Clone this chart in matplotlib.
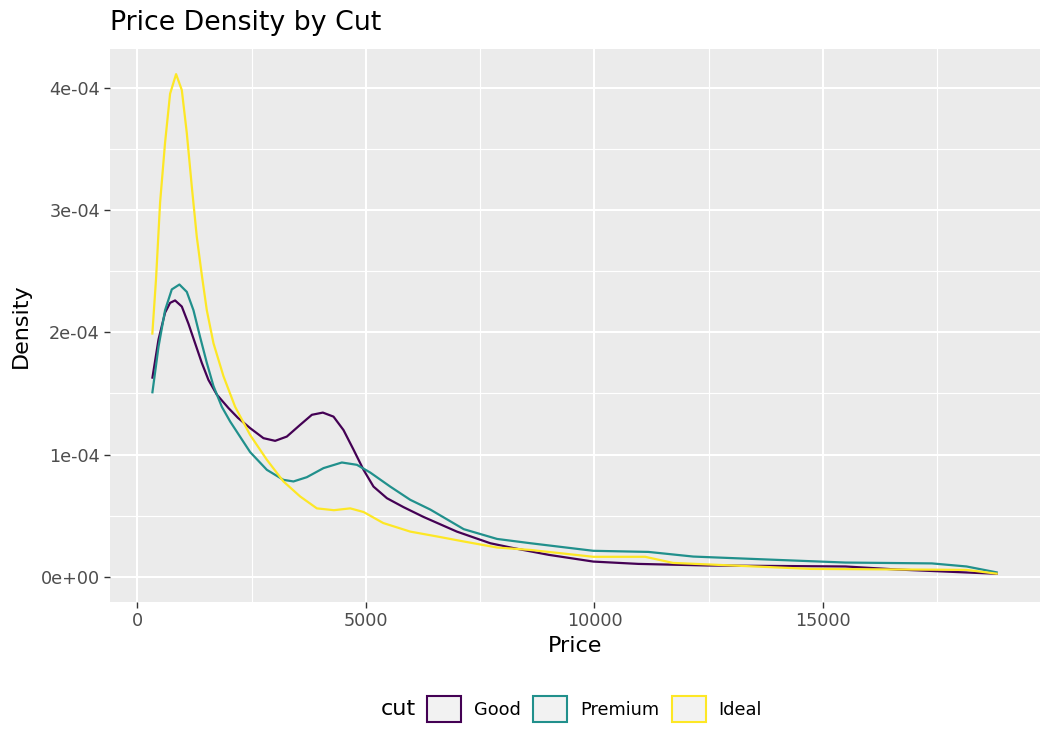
import matplotlib
matplotlib.use("Agg")
import matplotlib.pyplot as plt
from matplotlib.patches import Patch

# ---- data ----
good_price = [326, 462, 606, 716, 825, 972, 1117, 1263, 1409, 1555, 1738, 1993, 2200, 2467,
              2758, 3014, 3270, 3562, 3818, 4058, 4291, 4510, 4729, 4948, 5166, 5460, 5823,
              6260, 6990, 7720, 8230, 9000, 9975, 10960, 12470, 15490, 16630, 18823]
good_dens = [1.62, 1.94, 2.16, 2.24, 2.26, 2.21, 2.07, 1.91, 1.75, 1.61, 1.49, 1.38, 1.30, 1.216,
             1.134, 1.112, 1.147, 1.243, 1.325, 1.343, 1.31, 1.20, 1.04, 0.875, 0.738, 0.643, 0.57,
             0.49, 0.37, 0.275, 0.235, 0.18, 0.125, 0.106, 0.093, 0.085, 0.06, 0.025]

premium_price = [326, 462, 606, 753, 920, 1081, 1227, 1373, 1519, 1665, 1848, 2030, 2467, 2833,
                 3196, 3415, 3708, 4072, 4474, 4803, 5094, 5532, 5970, 6410, 7140, 7870, 8600,
                 9975, 11180, 12160, 13980, 15490, 17380, 18140, 18823]
premium_dens = [1.50, 1.88, 2.18, 2.35, 2.39, 2.33, 2.18, 1.96, 1.75, 1.56, 1.39, 1.27, 1.02, 0.875,
                0.793, 0.78, 0.815, 0.889, 0.935, 0.916, 0.853, 0.738, 0.63, 0.55, 0.39, 0.31, 0.275,
                0.213, 0.204, 0.166, 0.139, 0.117, 0.11, 0.085, 0.035]

ideal_price = [326, 409, 497, 606, 716, 847, 972, 1081, 1191, 1300, 1409, 1519, 1665, 1884, 2139,
               2467, 2833, 3196, 3562, 3927, 4300, 4657, 4950, 5380, 5970, 6560, 7130, 7870, 8600,
               9975, 11110, 11720, 14740, 18140, 18823]
ideal_dens = [1.98, 2.44, 3.06, 3.55, 3.95, 4.11, 3.98, 3.63, 3.19, 2.78, 2.47, 2.18, 1.91, 1.64, 1.39,
              1.16, 0.957, 0.78, 0.657, 0.56, 0.545, 0.56, 0.53, 0.44, 0.37, 0.33, 0.29, 0.24, 0.22,
              0.164, 0.164, 0.114, 0.065, 0.057, 0.025]

cuts = ["Good", "Premium", "Ideal"]
colors = ["#440154", "#21908C", "#FDE725"]
series = [(good_price, good_dens), (premium_price, premium_dens), (ideal_price, ideal_dens)]

x_ticks = [0, 5000, 10000, 15000]
x_ticklabels = ["0", "5000", "10000", "15000"]
y_ticks = [0, 1e-4, 2e-4, 3e-4, 4e-4]
y_ticklabels = ["0e+00", "1e-04", "2e-04", "3e-04", "4e-04"]

# ---- figure ----
fig = plt.figure(figsize=(10.5, 7.5), dpi=100)
ax = fig.add_axes([110/1050, 1 - 602/750, 930/1050, 553/750])
ax.set_facecolor("#EBEBEB")

for (xs, ys), c in zip(series, colors):
    ax.plot(xs, [v * 1e-4 for v in ys], color=c, lw=1.6,
            solid_joinstyle="round", solid_capstyle="butt", zorder=3)

xmin, xmax = 326, 18823
ex = (xmax - xmin) * 0.05
ax.set_xlim(xmin - ex, xmax + ex)
ymax = 4.11e-4
ax.set_ylim(-ymax * 0.05, ymax * 1.05)

ax.set_xticks(x_ticks)
ax.set_xticklabels(x_ticklabels)
ax.set_yticks(y_ticks)
ax.set_yticklabels(y_ticklabels)
ax.set_xticks([2500, 7500, 12500, 17500], minor=True)
ax.set_yticks([0.5e-4, 1.5e-4, 2.5e-4, 3.5e-4], minor=True)

ax.grid(which="major", color="white", lw=1.5)
ax.grid(which="minor", color="white", lw=0.8)
ax.set_axisbelow(True)
for s in ax.spines.values():
    s.set_visible(False)
ax.tick_params(which="major", length=4, width=1.0, color="#333333",
               labelcolor="#4D4D4D", labelsize=12.7, pad=3.2)
ax.tick_params(which="minor", length=0)

ax.set_xlabel("Price", fontsize=16, color="black", labelpad=4)
ax.set_ylabel("Density", fontsize=16, color="black", labelpad=7)
ax.set_title("Price Density by Cut", loc="left", fontsize=19.3, color="black", pad=13.5)

handles = [Patch(facecolor="#F2F2F2", edgecolor=c, lw=1.5, label=l) for c, l in zip(colors, cuts)]
fig.text(381/1050, 1 - 709/750, "cut", fontsize=16, va="center", ha="left")
leg = fig.legend(handles=handles, loc="center left", bbox_to_anchor=(427/1050, 1 - 709/750),
                 ncol=3, frameon=False, fontsize=12.8, handlelength=1.9, handleheight=1.9,
                 handletextpad=0.72, columnspacing=0.72, borderaxespad=0, borderpad=0)

fig.savefig("out.png", dpi=100)
